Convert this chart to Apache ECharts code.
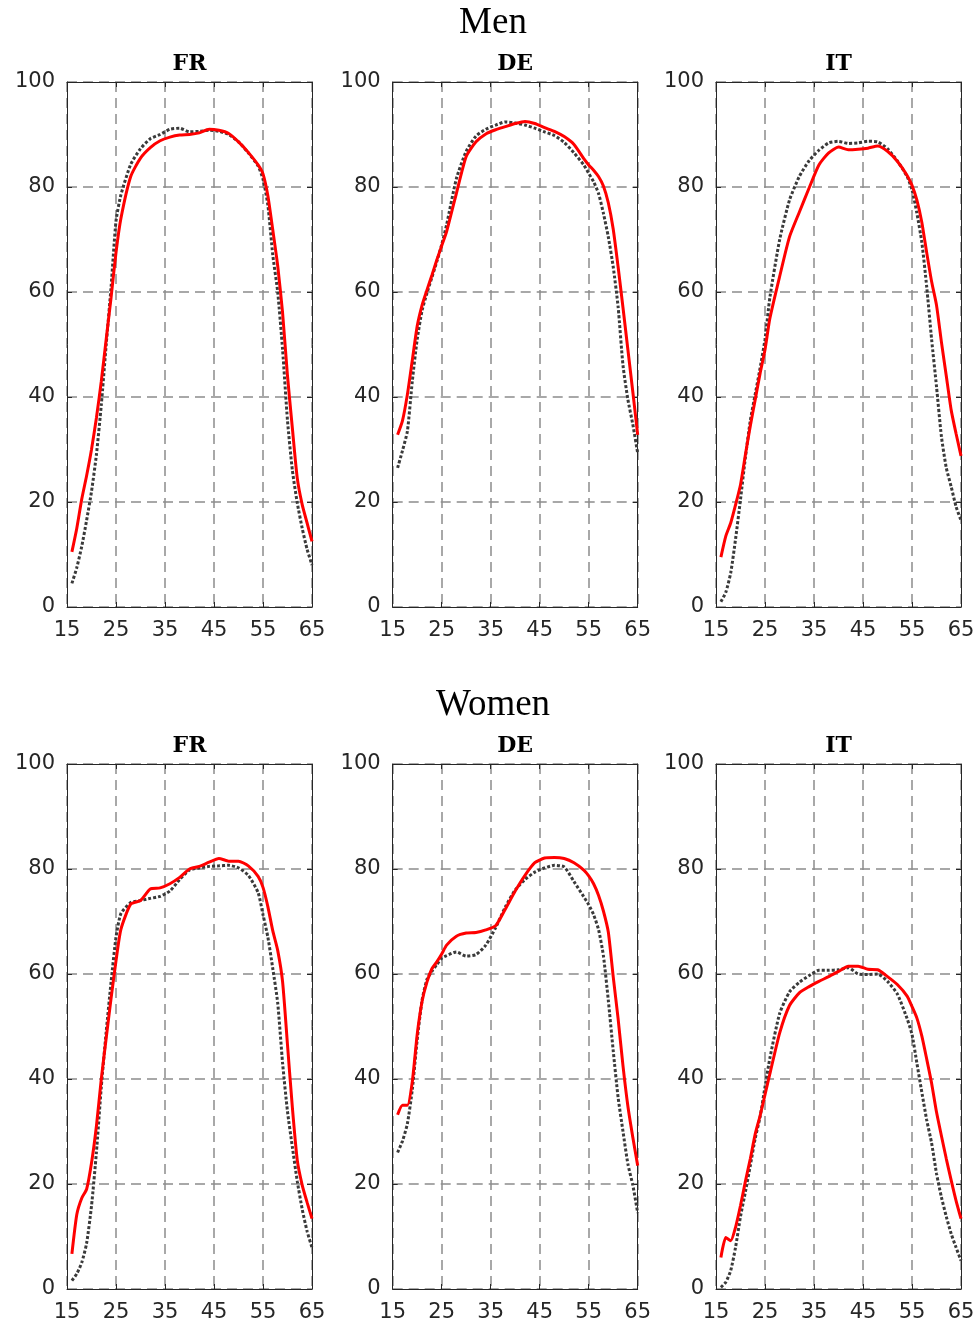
<!DOCTYPE html>
<html>
<head>
<meta charset="utf-8">
<script src="https://cdn.jsdelivr.net/npm/echarts@6/dist/echarts.min.js"></script>
<style>
html,body{margin:0;padding:0;background:#fff;}
#chart{width:980px;height:1323px;}
</style>
</head>
<body>
<div id="chart"></div>
<script>
// ---- data ----
const ages = [16,17,18,19,20,21,22,23,24,25,26,28,30,32,34,36,38,40,42,44,46,48,50,52,54,55,56,57,58,59,60,61,62,63,64,65];
const xTicks = [15,25,35,45,55,65];
const yTicks = [0,20,40,60,80,100];
const groups = ['Men','Women'];
const countries = ['FR','DE','IT'];

const menFR_red = [10.5,15,20.5,25,30,36,43,51,59,67.5,74,82,85.5,87.5,88.8,89.5,89.9,90.0,90.3,91.0,90.8,90.2,88.6,86.6,84.2,82.5,78.3,71.8,65,56,44,34,24.5,19.5,16,12.5];
const menFR_blk = [4.5,7.5,11.5,16.5,22,29,38.5,50,61,73.5,78.5,84.3,87.3,89.2,90,91,91.2,90.5,90.6,90.8,90.6,90,88.6,86.5,84,81.5,76.5,67,60,49,35.5,26,19.8,15,11,8];
const menDE_red = [32.8,35.5,40.5,47,53.5,57.5,60.4,63.2,66.1,68.8,71.5,78.8,85.8,88.6,90.1,90.9,91.5,92.1,92.5,92.1,91.3,90.6,89.6,88.1,85.4,84.2,83.2,82,80.2,77,72,64.8,57,49,41,32.8];
const menDE_blk = [26.5,29.8,33.5,43,51,56.5,59.8,62.8,65.8,69,72.8,81.6,86.8,89.7,91,91.8,92.4,92.2,91.8,91.2,90.5,89.8,88.5,86.5,84.2,82.6,81,78.8,75,70.5,64.8,57.2,46,39.5,34.8,29.3];
const menIT_red = [9.5,13.5,16,19.5,23.3,29,34.5,39.5,44.5,49,55,63,70.5,75.2,79.8,84.2,86.5,87.6,87.1,87.2,87.4,87.8,86.8,84.9,82.2,80.3,77.5,73.3,67.5,62,57.5,50.5,44,37.5,33,28.8];
const menIT_blk = [1,2.8,6.5,13,20.5,28.5,35.5,40.5,45.5,51,59,70,77.5,82,85,87,88.4,88.7,88.3,88.4,88.7,88.6,87.3,85,82,79.5,75,69.5,61,51,42,32.5,26.5,22.9,19.1,16.5];
const womFR_red = [6.7,14.2,17.3,19,24,31,40,47.8,55.4,62.5,68.5,73.3,74,76.2,76.4,77.2,78.4,80,80.5,81.3,82,81.5,81.5,80.6,78.6,76.5,72.8,68.2,64.5,58.5,46.5,34.5,24.5,19.8,16.5,13.4];
const womFR_blk = [1.6,2.9,5,8.7,15.8,26,38.5,49,58.5,67,71.5,73.6,74,74.4,74.8,75.8,78,79.8,80.2,80.5,80.6,80.7,80.2,78.8,75.5,71.3,67,61,54.5,43,33.8,27,20.5,15.2,11,7.9];
const womDE_red = [33.2,35,35,39.5,48.5,54.8,58.5,61,62.3,63.8,65.5,67.2,67.8,67.9,68.4,69.2,72.4,75.8,78.8,81.2,82.1,82.2,82,81.2,79.8,78.7,77.2,75,72,68,59.5,51.5,42.5,34.8,28.9,23.5];
const womDE_blk = [26,28.2,31.5,38,47.5,55,59,60.5,61.8,63,63.5,64.2,63.4,63.7,65.5,68.8,72.8,76,78,79.4,80.2,80.7,80.4,77.6,74.7,73.2,71.3,68.5,63.5,55,45.4,36.5,30,23.8,19.8,14.5];
const womIT_red = [6,9.8,9.2,11.8,15.9,20.5,24.8,29.5,33,37,41,48.8,54,56.4,57.6,58.6,59.5,60.5,61.5,61.5,60.9,60.8,59.5,58,55.8,53.8,51.6,48.2,43.8,39.2,33.7,29.2,24.8,20.7,16.8,13.4];
const womIT_blk = [0.3,1.3,3.5,8,13.8,18.5,23.5,28.7,32.8,38.5,44,52.5,56.6,58.4,59.7,60.7,60.7,60.8,61.2,60,59.9,60,58.6,56.2,51.5,48.5,43,37.5,32.2,27.8,22,17.5,13.8,10.5,7.9,5.4];

const panels = [
  [menFR_red, menFR_blk], [menDE_red, menDE_blk], [menIT_red, menIT_blk],
  [womFR_red, womFR_blk], [womDE_red, womDE_blk], [womIT_red, womIT_blk]
];

// ---- layout ----
const lefts = [67, 392.7, 716];
const tops = [82, 764];
const W = 245, H = 525;
const axisColor = '#262626';

const grid = [], xAxis = [], yAxis = [], series = [], graphic = [];
for (let p = 0; p < 6; p++) {
  const r = Math.floor(p / 3), c = p % 3;
  grid.push({left: lefts[c], top: tops[r], width: W, height: H, show: false});
  const common = {
    gridIndex: p, type: 'value', min: 15, max: 65, interval: 10
  };
  xAxis.push(Object.assign({}, common, {
    position: 'bottom',
    axisLine: {show: true, onZero: false, lineStyle: {color: axisColor, width: 1}},
    axisTick: {show: true, inside: true, length: 5, lineStyle: {color: axisColor}},
    axisLabel: {show: true, margin: 13, fontFamily: 'DejaVu Sans', fontSize: 21, color: axisColor,
      formatter: v => xTicks.includes(v) ? String(v) : ''},
    splitLine: {show: true, lineStyle: {color: '#8c8c8c', width: 1.5, type: [10, 6]}}
  }));
  xAxis.push(Object.assign({}, common, {
    position: 'top',
    axisLine: {show: true, onZero: false, lineStyle: {color: axisColor, width: 1}},
    axisTick: {show: true, inside: true, length: 5, lineStyle: {color: axisColor}},
    axisLabel: {show: false}, splitLine: {show: false}
  }));
  const ycommon = {gridIndex: p, type: 'value', min: 0, max: 100, interval: 20};
  yAxis.push(Object.assign({}, ycommon, {
    position: 'left',
    axisLine: {show: true, onZero: false, lineStyle: {color: axisColor, width: 1}},
    axisTick: {show: true, inside: true, length: 5, lineStyle: {color: axisColor}},
    axisLabel: {show: true, margin: 12, fontFamily: 'DejaVu Sans', fontSize: 21, color: axisColor,
      formatter: v => yTicks.includes(v) ? String(v) : ''},
    splitLine: {show: true, lineStyle: {color: '#8c8c8c', width: 1.5, type: [10, 6]}}
  }));
  yAxis.push(Object.assign({}, ycommon, {
    position: 'right',
    axisLine: {show: true, onZero: false, lineStyle: {color: axisColor, width: 1}},
    axisTick: {show: true, inside: true, length: 5, lineStyle: {color: axisColor}},
    axisLabel: {show: false}, splitLine: {show: false}
  }));
  const [red, blk] = panels[p];
  series.push({
    type: 'line', xAxisIndex: 2 * p, yAxisIndex: 2 * p,
    data: ages.map((a, i) => [a, blk[i]]),
    showSymbol: false, smooth: 0.2, z: 3, silent: true,
    lineStyle: {color: '#3a3a3a', width: 3, type: [3, 2], cap: 'butt'}
  });
  series.push({
    type: 'line', xAxisIndex: 2 * p, yAxisIndex: 2 * p,
    data: ages.map((a, i) => [a, red[i]]),
    showSymbol: false, smooth: 0.2, z: 4, silent: true,
    lineStyle: {color: '#ff0000', width: 3}
  });
  graphic.push({
    type: 'text', x: lefts[c] + W / 2, y: tops[r] - 18,
    style: {text: countries[c], font: 'bold 22px "DejaVu Serif"', fill: '#000',
      textAlign: 'center', textVerticalAlign: 'middle'}
  });
}
groups.forEach((g, r) => {
  graphic.push({
    type: 'text', x: 493, y: r === 0 ? 23 : 705,
    style: {text: g, font: '37px "Liberation Serif"', fill: '#000',
      textAlign: 'center', textVerticalAlign: 'middle'}
  });
});

const chart = echarts.init(document.getElementById('chart'), null, {renderer: 'canvas'});
chart.setOption({
  animation: false,
  backgroundColor: '#fff',
  grid, xAxis, yAxis, series, graphic
});
</script>
</body>
</html>
